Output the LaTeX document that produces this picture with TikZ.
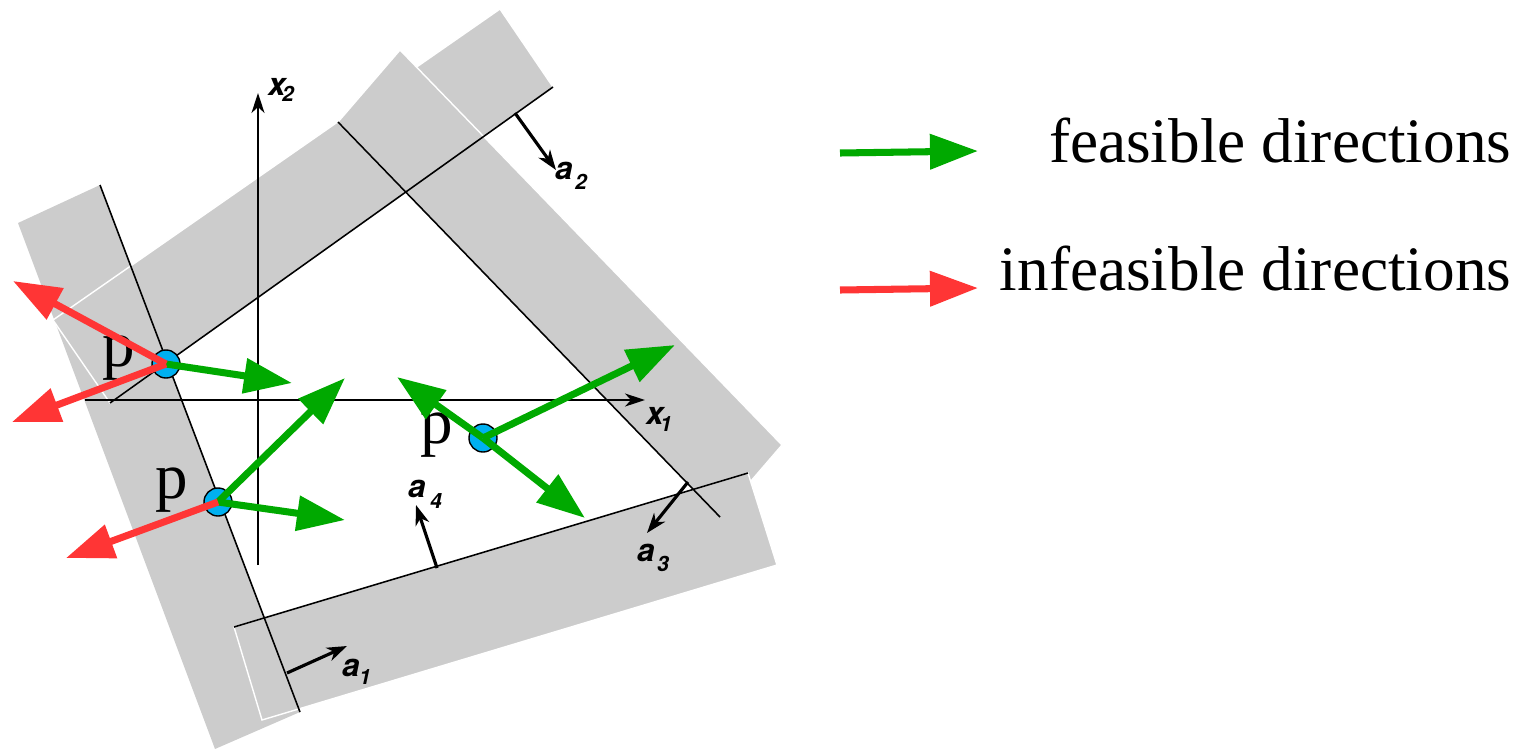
\documentclass[tikz,border=0pt]{standalone}
\usepackage{fontspec}
\setmainfont{Liberation Serif}
\newfontfamily\hvfont{TeX Gyre Heros}
\usetikzlibrary{arrows.meta}
\definecolor{bandgray}{HTML}{CCCCCC}
\definecolor{fgreen}{HTML}{00A900}
\definecolor{ired}{HTML}{FF3535}
\definecolor{pblue}{HTML}{00B0F0}
\begin{document}
\begin{tikzpicture}[x=0.01cm,y=-0.01cm,
  band/.style={fill=bandgray, draw=white, line width=0.4pt},
  cline/.style={black, line width=0.45pt},
  axisline/.style={black, line width=0.55pt, -{Stealth[length=2mm,width=1.3mm,inset=0.6mm]}},
  normalvec/.style={black, line width=0.9pt, -{Stealth[length=2mm,width=1.4mm,inset=0.6mm]}},
  feas/.style={draw=fgreen, line width=2pt, -{Triangle[length=4.8mm,width=3.4mm]}},
  infeas/.style={draw=ired, line width=2pt, -{Triangle[length=4.8mm,width=3.4mm]}},
  ptdot/.style={circle, fill=pblue, draw=black, line width=0.4pt, minimum size=0.28cm, inner sep=0pt},
  plabel/.style={font=\fontsize{18.5}{20}\selectfont, anchor=base, inner sep=0pt},
  alabel/.style={font=\hvfont\bfseries\itshape\fontsize{9}{10}\selectfont, inner sep=0pt},
  sublabel/.style={font=\hvfont\bfseries\itshape\fontsize{6}{7}\selectfont, inner sep=0pt},
  legtext/.style={font=\fontsize{18}{20}\selectfont, anchor=base east, inner sep=0pt}
]
\useasboundingbox (0,0) rectangle (1530,748);

% constraint bands
\fill[bandgray] (100,185) -- (300,712) -- (215,749) -- (18,223) -- cycle;
\filldraw[band] (110,403) -- (553,87) -- (500,9) -- (53,320) -- cycle;
\filldraw[band] (338,122) -- (720,517) -- (782,445) -- (400,50) -- cycle;
\filldraw[band] (234,627) -- (748,473) -- (777,565) -- (262,720) -- cycle;

% constraint lines
\coordinate (l1a) at (100,185); \coordinate (l1b) at (300,712);
\coordinate (l2a) at (110,403); \coordinate (l2b) at (553,87);
\coordinate (l3a) at (338,122); \coordinate (l3b) at (720,517);
\coordinate (l4a) at (234,627); \coordinate (l4b) at (748,473);
\draw[cline] (l1a) -- (l1b);
\draw[cline] (l2a) -- (l2b);
\draw[cline] (l3a) -- (l3b);
\draw[cline] (l4a) -- (l4b);

% axes
\coordinate (x1s) at (85,400); \coordinate (x1e) at (645,400);
\coordinate (x2s) at (258,565); \coordinate (x2e) at (258,93);
\draw[axisline] (x1s) -- (x1e);
\draw[axisline] (x2s) -- (x2e);
\node[alabel] (x1l) at (655,416) {x};
\node[sublabel] (x1n) at (666,424) {1};
\node[alabel] (x2l) at (277,87) {x};
\node[sublabel] (x2n) at (288,94) {2};

% normal vectors
\coordinate (a1s) at (287,673); \coordinate (a1e) at (347,646);
\coordinate (a2s) at (515,113); \coordinate (a2e) at (556,170);
\coordinate (a3s) at (688,482); \coordinate (a3e) at (647,533);
\coordinate (a4s) at (437,568); \coordinate (a4e) at (416,505);
\draw[normalvec] (a1s) -- (a1e);
\draw[normalvec] (a2s) -- (a2e);
\draw[normalvec] (a3s) -- (a3e);
\draw[normalvec] (a4s) -- (a4e);
\node[alabel] (a1l) at (351,668) {a};
\node[sublabel] (a1n) at (365,677) {1};
\node[alabel] (a2l) at (564,171) {a};
\node[sublabel] (a2n) at (581,182) {2};
\node[alabel] (a3l) at (646,553) {a};
\node[sublabel] (a3n) at (663,564) {3};
\node[alabel] (a4l) at (417,489) {a};
\node[sublabel] (a4n) at (436,501) {4};

% points
\node[ptdot] (p1) at (166,364) {};
\node[ptdot] (p2) at (218,502) {};
\node[ptdot] (p3) at (483,438) {};
\node[plabel] (p1l) at (119,366) {p};
\node[plabel] (p2l) at (172,498) {p};
\node[plabel] (p3l) at (437,443) {p};

% direction arrows
\coordinate (t11) at (292,383);
\coordinate (t12) at (13,281);
\coordinate (t13) at (12,422);
\coordinate (t21) at (345,378);
\coordinate (t22) at (345,520);
\coordinate (t23) at (66,558);
\coordinate (t31) at (675,345);
\coordinate (t32) at (397,377);
\coordinate (t33) at (585,518);
\draw[feas] (p1.center) -- (t11);
\draw[infeas] (p1.center) -- (t12);
\draw[infeas] (p1.center) -- (t13);
\draw[feas] (p2.center) -- (t21);
\draw[feas] (p2.center) -- (t22);
\draw[infeas] (p2.center) -- (t23);
\draw[feas] (p3.center) -- (t31);
\draw[feas] (p3.center) -- (t32);
\draw[feas] (p3.center) -- (t33);

% legend
\coordinate (lg1s) at (840,153); \coordinate (lg1e) at (978,151);
\coordinate (lg2s) at (840,290); \coordinate (lg2e) at (978,288);
\draw[feas] (lg1s) -- (lg1e);
\draw[infeas] (lg2s) -- (lg2e);
\node[legtext] (leg1) at (1512,162) {feasible directions};
\node[legtext] (leg2) at (1512,290) {infeasible directions};
\end{tikzpicture}
\end{document}
